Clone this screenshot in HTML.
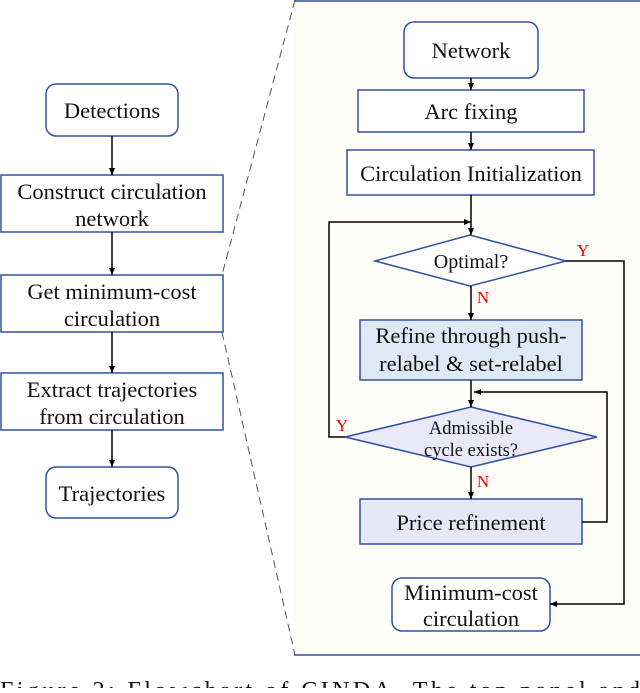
<!DOCTYPE html>
<html><head><style>
body{margin:0;width:640px;height:688px;overflow:hidden;background:#fff;font-family:"Liberation Serif",serif;}
</style></head><body>
<svg width="640" height="688" xmlns="http://www.w3.org/2000/svg" font-family="Liberation Serif, serif" font-size="22.5" text-anchor="middle">
<defs><marker id="a" markerWidth="8" markerHeight="8" refX="7" refY="4" orient="auto" markerUnits="userSpaceOnUse"><path d="M0,1 L7,4 L0,7z" fill="#000"/></marker></defs>
<rect x="294" y="0" width="346" height="655" fill="#fffdf8"/>
<line x1="294" y1="1" x2="640" y2="1" stroke="#2f52a0" stroke-width="1.5"/>
<line x1="294" y1="655" x2="640" y2="655" stroke="#2f52a0" stroke-width="1.5"/>
<line x1="295" y1="0" x2="222" y2="275" stroke="#555" stroke-dasharray="8,5"/>
<line x1="222" y1="332" x2="295" y2="655" stroke="#555" stroke-dasharray="8,5"/>
<g fill="#fff" stroke="#2f52a0" stroke-width="1.5">
<rect x="46" y="84" width="132" height="52" rx="10"/>
<rect x="1" y="175" width="222" height="57"/>
<rect x="1" y="275" width="222" height="57"/>
<rect x="1" y="373" width="222" height="57"/>
<rect x="46" y="467" width="132" height="51" rx="10"/>
<rect x="404" y="22" width="134" height="56" rx="10"/>
<rect x="358" y="90" width="226" height="42"/>
<rect x="347" y="150" width="247" height="45"/>
<polygon points="375,261 470,235 566,261 470,286"/>
<rect x="360" y="320" width="222" height="60" fill="#dfe8f5"/>
<polygon points="345,437 471,407 597,437 471,467" fill="#e9e9f8"/>
<rect x="360" y="499" width="222" height="45" fill="#e6e8f8"/>
<rect x="392" y="578" width="158" height="53" rx="10"/>
</g>
<g stroke="#000" stroke-width="1.5" fill="none" marker-end="url(#a)">
<line x1="112" y1="136" x2="112" y2="175"/>
<line x1="112" y1="232" x2="112" y2="275"/>
<line x1="112" y1="332" x2="112" y2="373"/>
<line x1="112" y1="430" x2="112" y2="467"/>
<line x1="471" y1="78" x2="471" y2="90"/>
<line x1="471" y1="132" x2="471" y2="150"/>
<line x1="471" y1="195" x2="471" y2="235"/>
<line x1="471" y1="286" x2="471" y2="320"/>
<line x1="471" y1="380" x2="471" y2="407"/>
<line x1="471" y1="467" x2="471" y2="499"/>
<polyline points="345,437 329,437 329,222 471,222"/>
<polyline points="566,261 624,261 624,604 550,604"/>
<polyline points="582,522 607,522 607,392 474,392"/>
</g>
<g fill="#111">
<text x="112" y="118">Detections</text>
<text x="112" y="199">Construct circulation</text>
<text x="112" y="226">network</text>
<text x="112" y="299">Get minimum-cost</text>
<text x="112" y="326">circulation</text>
<text x="112" y="397">Extract trajectories</text>
<text x="112" y="424">from circulation</text>
<text x="112" y="501">Trajectories</text>
<text x="471" y="58">Network</text>
<text x="471" y="119">Arc fixing</text>
<text x="471" y="181">Circulation Initialization</text>
<text x="471" y="268" font-size="20">Optimal?</text>
<text x="471" y="343">Refine through push-</text>
<text x="471" y="371">relabel &amp; set-relabel</text>
<text x="471" y="434" font-size="18.5">Admissible</text>
<text x="471" y="456" font-size="18.5">cycle exists?</text>
<text x="471" y="530">Price refinement</text>
<text x="471" y="600">Minimum-cost</text>
<text x="471" y="626">circulation</text>
</g>
<g fill="#e00" font-size="17">
<text x="583" y="256">Y</text>
<text x="342" y="431">Y</text>
<text x="483" y="303">N</text>
<text x="483" y="487">N</text>
</g>
<text x="0" y="698" text-anchor="start" font-size="24" fill="#111" textLength="640" lengthAdjust="spacing">Figure 2: Flowchart of CINDA. The top panel and</text>
</svg>
</body></html>
